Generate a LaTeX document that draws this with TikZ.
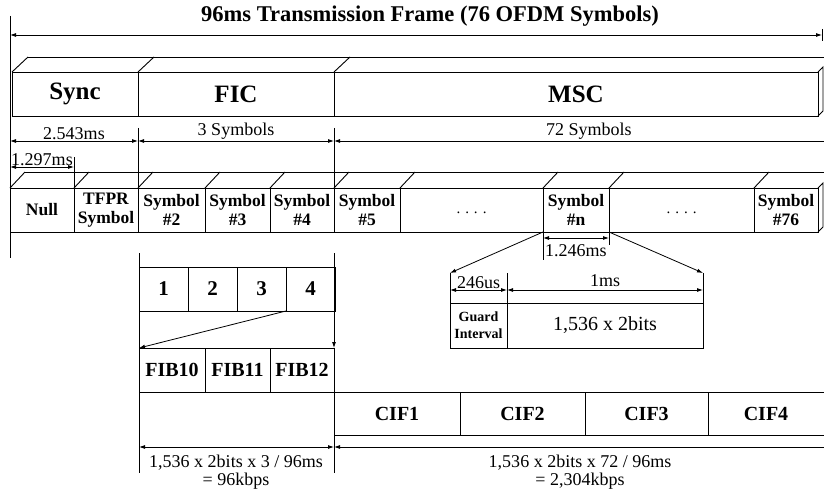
\documentclass[tikz,border=0pt]{standalone}
\usepackage{fontspec}
\setmainfont{Liberation Serif}
\usetikzlibrary{positioning,arrows.meta}
\tikzset{
  >={Latex[length=6pt,width=4pt]},
  rowbox/.style={draw, line width=0.9pt, inner sep=0pt, outer sep=0pt, align=center},
  bigbox/.style={rowbox, minimum height=44pt, font=\bfseries\fontsize{25}{27}\selectfont},
  symbox/.style={rowbox, minimum height=44pt, font=\bfseries\fontsize{17.5}{18.5}\selectfont},
  dotbox/.style={rowbox, minimum height=44pt, font=\fontsize{15}{17}\selectfont},
  ficbox/.style={rowbox, minimum width=49pt, minimum height=44pt, font=\bfseries\fontsize{21}{24}\selectfont},
  fibbox/.style={rowbox, minimum height=44pt, font=\bfseries\fontsize{20}{22}\selectfont},
  cifbox/.style={rowbox, minimum height=43pt, font=\bfseries\fontsize{20}{22}\selectfont},
  gbox/.style={rowbox, minimum height=45pt, font=\bfseries\fontsize{14}{17}\selectfont},
  databox/.style={rowbox, minimum height=45pt, font=\fontsize{20}{22}\selectfont},
  edge/.style={line width=0.9pt},
  tick/.style={line width=0.9pt},
  dimarrow/.style={<->, line width=0.8pt},
  halfarrow/.style={<-, line width=0.8pt},
  fanarrow/.style={->, line width=0.8pt},
  dimlabel/.style={font=\fontsize{18}{20}\selectfont, inner sep=1pt},
  titlefont/.style={font=\bfseries\fontsize{22.5}{25}\selectfont}
}
\begin{document}
\begin{tikzpicture}[x=1pt, y=-1pt]
  \useasboundingbox (0,0) rectangle (824,492);
  \node[titlefont] (title) at (430,16) {96ms Transmission Frame (76 OFDM Symbols)};
  \coordinate (fl) at (10,35);
  \coordinate (fr) at (822,35);
  \coordinate (ltop) at (10,16);
  \coordinate (lbot) at (10,258);
  \draw[dimarrow] (fl) -- (fr);
  \draw[tick] (ltop) -- (lbot);
  \draw[tick] (fr) ++(0,-6) -- ++(0,12);

  \node[bigbox, anchor=north west, minimum width=126pt] (sync) at (12,72) {Sync};
  \node[bigbox, right=0pt of sync, minimum width=196pt] (fic) {FIC};
  \node[bigbox, right=0pt of fic, minimum width=484pt] (msc) {MSC};
  \foreach \n in {sync,fic,msc}
    \draw[edge] (\n.north west) -- ++(16,-15);
  \draw[edge] (sync.north west) ++(16,-15) -- (824,57);
  \draw[edge] (msc.north east) -- ++(5,-5) -- ++(0,44) -- (msc.south east);

  \coordinate (d0) at (10,141);
  \coordinate (d1) at (138,141);
  \coordinate (d2) at (334,141);
  \coordinate (d3) at (824,141);
  \draw[dimarrow] (d0) -- node[dimlabel, above] {2.543ms} (d1);
  \draw[dimarrow] (d1) -- node[dimlabel, above] {3 Symbols} (d2);
  \draw[halfarrow] (d2) -- node[dimlabel, above, pos=0.52] {72 Symbols} (d3);
  \coordinate (e0) at (10,167);
  \coordinate (e1) at (74,167);
  \draw[dimarrow] (e0) -- node[dimlabel, above] {1.297ms} (e1);

  \node[symbox, anchor=north west, minimum width=64pt] (null) at (10,188) {Null};
  \node[symbox, right=0pt of null, minimum width=64pt] (tfpr) {TFPR\\Symbol};
  \node[symbox, right=0pt of tfpr, minimum width=67pt] (s2) {Symbol\\\#2};
  \node[symbox, right=0pt of s2, minimum width=65pt] (s3) {Symbol\\\#3};
  \node[symbox, right=0pt of s3, minimum width=64pt] (s4) {Symbol\\\#4};
  \node[symbox, right=0pt of s4, minimum width=66pt] (s5) {Symbol\\\#5};
  \node[dotbox, right=0pt of s5, minimum width=143pt] (gap1) {\raisebox{-7pt}{. . . .}};
  \node[symbox, right=0pt of gap1, minimum width=66pt] (sn) {Symbol\\\#n};
  \node[dotbox, right=0pt of sn, minimum width=145pt] (gap2) {\raisebox{-7pt}{. . . .}};
  \node[symbox, right=0pt of gap2, minimum width=64pt] (s76) {Symbol\\\#76};
  \foreach \n in {null,tfpr,s2,s3,s4,s5,gap1,sn,gap2,s76}
    \draw[edge] (\n.north west) -- ++(15,-16);
  \draw[edge] (null.north west) ++(15,-16) -- (824,172);
  \draw[edge] (s76.north east) -- ++(5,-5) -- ++(0,44) -- (s76.south east);
  \draw[tick] (d1) ++(0,-13) -- (s2.north west);
  \draw[tick] (d2) ++(0,-13) -- (s5.north west);
  \draw[tick] (e1) ++(0,-10) -- (tfpr.north west);

  \coordinate (w0) at (543,238);
  \coordinate (w1) at (609,238);
  \draw[tick] (sn.south west) -- ++(0,28);
  \draw[tick] (sn.south east) -- ++(0,13);
  \draw[dimarrow] (w0) -- (w1);
  \node[dimlabel, anchor=north west] (wlab) at (544,243) {1.246ms};

  \node[gbox, anchor=north west, minimum width=57pt] (guard) at (450,303) {Guard\\Interval};
  \node[databox, right=0pt of guard, minimum width=196pt] (data) {1,536 x 2bits};
  \coordinate (g0) at (450,273);
  \coordinate (g1) at (507,273);
  \coordinate (g2) at (703,273);
  \draw[tick] (g0) -- (guard.north west);
  \draw[tick] (g1) -- (guard.north east);
  \draw[tick] (g2) -- (data.north east);
  \draw[fanarrow] (sn.south west) -- (g0);
  \draw[fanarrow] (sn.south east) -- (g2);
  \coordinate (k0) at (450,290);
  \coordinate (k1) at (507,290);
  \coordinate (k2) at (703,290);
  \draw[dimarrow] (k0) -- node[dimlabel, above] {246us} (k1);
  \draw[dimarrow] (k1) -- node[dimlabel, above=2pt] {1ms} (k2);

  \coordinate (fa) at (139,253);
  \coordinate (fb) at (334,253);
  \coordinate (fc) at (139,473);
  \node[ficbox, anchor=north west] (f1) at (139,267) {1};
  \node[ficbox, right=0pt of f1] (f2) {2};
  \node[ficbox, right=0pt of f2] (f3) {3};
  \node[ficbox, right=0pt of f3] (f4) {4};
  \node[fibbox, anchor=north west, minimum width=66pt] (fib10) at (139,348) {FIB10};
  \node[fibbox, right=0pt of fib10, minimum width=65pt] (fib11) {FIB11};
  \node[fibbox, right=0pt of fib11, minimum width=64pt] (fib12) {FIB12};
  \draw[tick] (fa) -- (fc);
  \draw[fanarrow] (fb) -- (fib12.north east);
  \draw[fanarrow] (f4.south west) -- (fib10.north west);

  \node[cifbox, anchor=north west, minimum width=126pt] (cif1) at (334,392) {CIF1};
  \node[cifbox, right=0pt of cif1, minimum width=125pt] (cif2) {CIF2};
  \node[cifbox, right=0pt of cif2, minimum width=123pt] (cif3) {CIF3};
  \node[cifbox, right=0pt of cif3, minimum width=116pt, draw=none] (cif4) {CIF4};
  \draw[edge] (cif3.north east) -- (cif4.north east);
  \draw[edge] (cif3.south east) -- (cif4.south east);

  \coordinate (h0) at (139,447);
  \coordinate (h1) at (334,447);
  \coordinate (h2) at (824,447);
  \coordinate (h3) at (334,473);
  \draw[tick] (cif1.south west) -- (h3);
  \draw[dimarrow] (h0) -- (h1);
  \draw[halfarrow] (h1) -- (h2);
  \node[dimlabel] (rl1) at (236,463) {1,536 x 2bits x 3 / 96ms};
  \node[dimlabel] (rl2) at (236,481) {= 96kbps};
  \node[dimlabel] (rr1) at (580,463) {1,536 x 2bits x 72 / 96ms};
  \node[dimlabel] (rr2) at (580,481) {= 2,304kbps};
\end{tikzpicture}
\end{document}
